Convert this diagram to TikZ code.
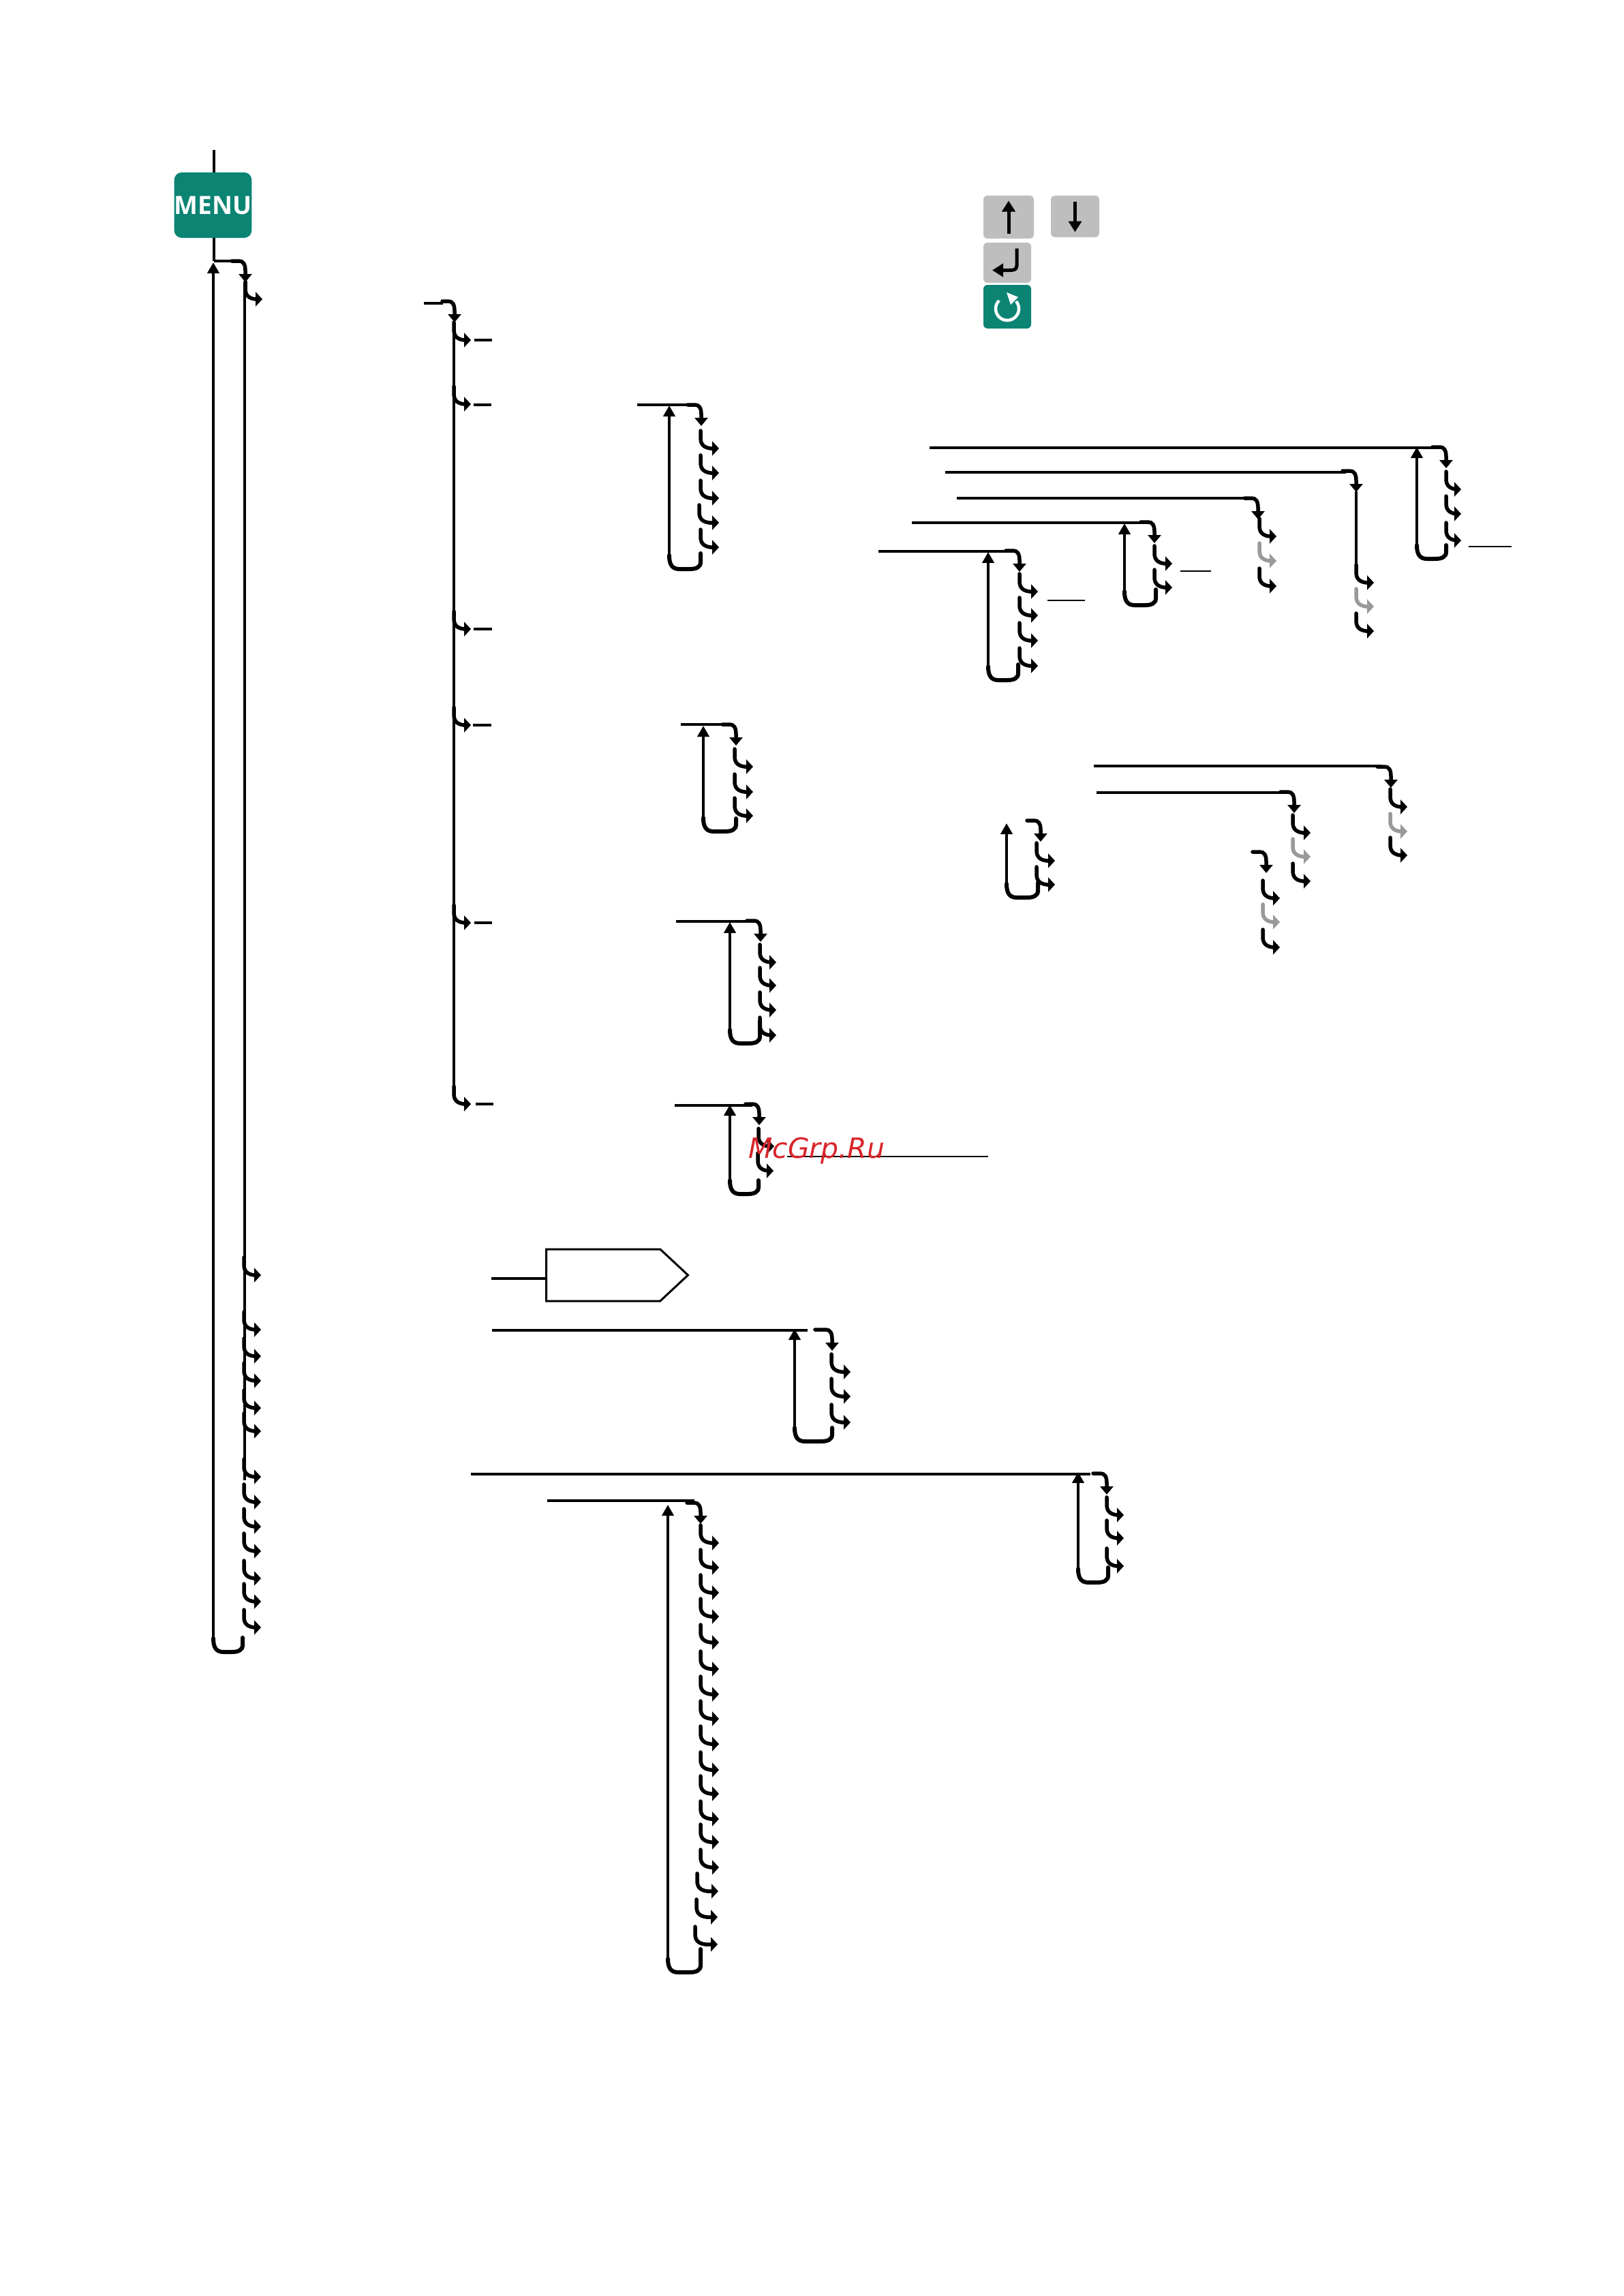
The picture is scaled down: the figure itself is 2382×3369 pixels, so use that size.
\documentclass[tikz,border=0pt]{standalone}
\usepackage{fontspec}
\setmainfont{Open Sans}
\newfontfamily\markfont{DejaVu Sans}
\usetikzlibrary{arrows.meta,shapes.symbols}

\definecolor{menuteal}{HTML}{0B8474}
\definecolor{keygrey}{HTML}{BEBEBE}
\definecolor{hookgrey}{HTML}{999999}
\definecolor{markred}{HTML}{D8262C}

\tikzset{
    hookline/.style={line width=5.5pt, line cap=round, -{Triangle[width=21pt,length=10pt]}},
    dropline/.style={line width=5.5pt, line cap=round, -{Triangle[width=19pt,length=12pt]}},
    feedline/.style={line width=4.5pt},
    stubline/.style={line width=4pt},
    thinline/.style={line width=1.6pt},
    loopline/.style={line width=6pt, line cap=round},
    backline/.style={line width=4.5pt, -{Triangle[width=17pt,length=16pt]}},
    keybtn/.style={fill=keygrey, rounded corners=6pt, inner sep=0pt},
    keyarrow/.style={line width=5pt, -{Triangle[width=19pt,length=16pt]}},
    pics/hook/.style={code={\draw[hookline] (0,-26) -- (0,-15) .. controls (0,-5) and (6,-1) .. (15,0) -- (#1,0);}},
    pics/hook/.default=26,
    pics/drop/.style={code={\draw[dropline] (-#1,0) -- (-9,0) .. controls (-3,0) and (0,5) .. (0,14) -- (0,31);}},
    pics/drop/.default=20,
}

% horizontal line from x to x at height y
\newcommand{\feed}[4][feedline]{
    \coordinate (feedstart) at (#2,#4);
    \coordinate (feedend) at (#3,#4);
    \draw[#1] (feedstart) -- (feedend);
}
% way back: right x, right top, bottom y, left x, arrow tip y
\newcommand{\backloop}[5]{
    \draw[loopline] (#1,#2) -- (#1,#3-10) .. controls (#1,#3-3) and (#1-6,#3) .. (#1-16,#3) -- (#4+15,#3) .. controls (#4+4,#3) and (#4,#3-7) .. (#4,#3-20);
    \draw[backline] (#4,#3-20) -- (#4,#5);
}

\begin{document}
\begin{tikzpicture}[x=1pt,y=-1pt]
    \useasboundingbox (0,0) rectangle (2382,3369);

    % keys
    \node[keybtn, rounded corners=11pt, minimum width=111pt, minimum height=96pt, fill=menuteal, text=white, font=\fontsize{37}{37}\selectfont\bfseries] (menu) at (312.5,301) {MENU};
    \node[keybtn, minimum width=74pt, minimum height=63pt] (keyup) at (1480,318.5) {};
    \node[keybtn, minimum width=71pt, minimum height=61pt] (keydown) at (1577.5,317.5) {};
    \node[keybtn, minimum width=70pt, minimum height=59pt] (keyenter) at (1478,385.5) {};
    \node[keybtn, minimum width=70pt, minimum height=64pt, fill=menuteal] (keyback) at (1478,450) {};
    \draw[keyarrow] ([yshift=-24pt]keyup.center) -- ([yshift=24pt]keyup.center);
    \draw[keyarrow] ([yshift=22pt]keydown.center) -- ([yshift=-23pt]keydown.center);
    \draw[keyarrow] ([xshift=14pt,yshift=21pt]keyenter.center) -- ([xshift=14pt,yshift=-4pt]keyenter.center) .. controls ([xshift=14pt,yshift=-10pt]keyenter.center) and ([xshift=10pt,yshift=-11pt]keyenter.center) .. ([xshift=4pt,yshift=-11pt]keyenter.center) -- ([xshift=-22pt,yshift=-11pt]keyenter.center);
    \draw[white, line width=4.5pt] (1466,441) arc[start angle=225, end angle=-40, radius=17];
    \fill[white] (1477,429) -- (1494,436) -- (1483,447) -- cycle;

    % main column
    \coordinate (menutop) at (314,220);
    \coordinate (menudown) at (314,383);
    \draw[feedline] (menutop) -- (menu.north -| menutop);
    \draw[feedline] (menu.south -| menutop) -- (menudown);
    \feed{314}{342}{383}
    \pic at (360,383) {drop};
    \pic at (360,439) {hook=25};
    \draw[stubline] (359,414) -- (359,2172);
    \foreach \y in {1871,1951,1990,2026,2066,2100,2167,2204,2240,2276,2316,2350,2388}
        \pic at (358,\y) {hook=25};
    \backloop{356}{2403}{2424}{313}{385}

    % second column
    \feed{622}{650}{445}
    \pic at (667,442) {drop=18};
    \draw[stubline] (666,473) -- (666,1597);
    \foreach \y in {499,593,923,1064,1354,1620}
        \pic at (666,\y) {hook=25};
    \feed[stubline]{696}{722}{499}
    \feed[stubline]{695}{721}{594}
    \feed[stubline]{695}{722}{923}
    \feed[stubline]{694}{721}{1064}
    \feed[stubline]{696}{722}{1354}
    \feed[stubline]{698}{724}{1620}

    % third column
    \feed{935}{1015}{594}
    \pic at (1029,594) {drop};
    \foreach \y in {658,694,731,803}
        \pic at (1028,\y) {hook=27};
    \pic at (1026,767) {hook=29};
    \backloop{1028}{812}{835}{982}{595}

    \feed{999}{1065}{1063}
    \pic at (1080,1063) {drop};
    \foreach \y in {1125,1162,1197}
        \pic at (1078,\y) {hook=27};
    \backloop{1080}{1201}{1220}{1032}{1065}

    \feed{992}{1105}{1352}
    \pic at (1116,1351) {drop};
    \foreach \y in {1412,1446,1482,1519}
        \pic at (1115,\y) {hook=24};
    \backloop{1115}{1498}{1531}{1071}{1353}

    \feed{990}{1104}{1622}
    \pic at (1114,1620) {drop};
    \pic at (1113,1682) {hook=23};
    \pic at (1112,1718) {hook=23};
    \backloop{1113}{1732}{1752}{1071}{1621}
    \feed[thinline]{1155}{1450}{1697}

    % lower part
    \node[signal, draw, line width=3pt, signal to=east, signal pointer angle=86, minimum width=208pt, minimum height=76pt, inner sep=0pt, outer sep=0pt, anchor=west] (prompt) at (801.5,1871) {};
    \coordinate (promptin) at (721,1876);
    \draw[feedline] (promptin) -- (promptin -| prompt.west);

    \feed{722}{1185}{1952}
    \pic at (1221,1951) {drop=25};
    \foreach \y in {2013,2049,2087}
        \pic at (1220,\y) {hook=28};
    \backloop{1221}{2095}{2115}{1166}{1950}

    \feed{691}{1600}{2163}
    \pic at (1624,2162) {drop};
    \foreach \y in {2223,2257,2298}
        \pic at (1624,\y) {hook=25};
    \backloop{1626}{2300}{2322}{1582}{2160}

    \feed{803}{1019}{2202}
    \pic at (1028,2205) {drop};
    \foreach \y in {2264,2300,2337,2372,2410,2449,2486,2522,2559,2597,2632,2669,2703,2740}
        \pic at (1028,\y) {hook=27};
    \pic at (1023,2775) {hook=31};
    \pic at (1022,2813) {hook=31};
    \pic at (1020,2853) {hook=33};
    \backloop{1028}{2860}{2894}{980}{2208}

    % upper right
    \feed{1364}{2105}{657}
    \pic at (2122,656) {drop};
    \foreach \y in {718,754,793}
        \pic at (2122,\y) {hook=22};
    \backloop{2122}{800}{820}{2079}{656}
    \feed[thinline]{2155}{2218}{802}

    \feed{1387}{1975}{693}
    \pic at (1990,691) {drop};
    \draw[stubline] (1990,721) -- (1990,835);
    \pic at (1990,855) {hook};
    \pic[hookgrey] at (1990,890) {hook};
    \pic at (1990,926) {hook};

    \feed{1404}{1830}{731}
    \pic at (1846,731) {drop};
    \pic at (1848,787) {hook=25};
    \pic[hookgrey] at (1848,823) {hook=25};
    \pic at (1848,860) {hook=25};

    \feed{1338}{1678}{767}
    \pic at (1694,766) {drop};
    \pic at (1694,827) {hook};
    \pic at (1694,862) {hook};
    \backloop{1696}{865}{888}{1650}{768}
    \feed[thinline]{1732}{1777}{838}

    \feed{1289}{1482}{809}
    \pic at (1496,808) {drop};
    \foreach \y in {868,903,940,977}
        \pic at (1496,\y) {hook=27};
    \backloop{1494}{975}{998}{1450}{810}
    \feed[thinline]{1537}{1592}{881}

    % lower right
    \feed{1605}{2028}{1124}
    \pic at (2041,1125) {drop};
    \pic at (2040,1184) {hook=25};
    \pic[hookgrey] at (2040,1220) {hook=25};
    \pic at (2040,1255) {hook=25};

    \feed{1609}{1883}{1163}
    \pic at (1899,1162) {drop};
    \pic at (1897,1222) {hook};
    \pic[hookgrey] at (1897,1257) {hook};
    \pic at (1897,1293) {hook};

    \pic at (1527,1204) {drop};
    \pic at (1521,1263) {hook=27};
    \pic at (1521,1298) {hook=27};
    \backloop{1523}{1295}{1317}{1477}{1208}

    \pic at (1858,1250) {drop};
    \pic at (1853,1318) {hook=25};
    \pic[hookgrey] at (1853,1353) {hook=25};
    \pic at (1853,1390) {hook=25};

    % site mark on top
    \node[anchor=base west, inner sep=0pt, text=markred, font=\markfont\itshape\fontsize{41}{41}\selectfont] (sitemark) at (1098,1699) {McGrp.Ru};
\end{tikzpicture}
\end{document}
